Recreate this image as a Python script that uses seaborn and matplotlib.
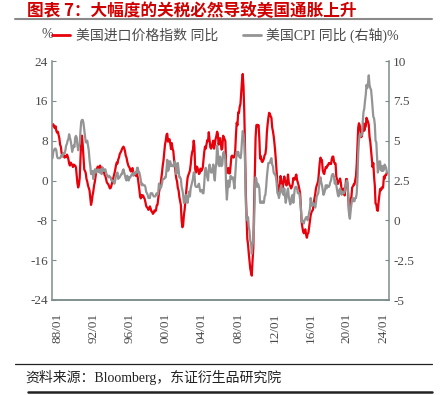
import numpy as np
import pandas as pd
import matplotlib
matplotlib.use("Agg")
import matplotlib.pyplot as plt
import matplotlib.dates as mdates
from matplotlib.lines import Line2D
import seaborn as sns

# ---------------- data (monthly, 1987-07 .. 2024-06) ----------------
start_month = "1987-07-01"

# US import price index, YoY %
import_yoy = [
    11.0, 11.3, 10.8, 10.5, 10.9, 10.0,
    9.6, 9.8, 9.2, 8.5, 7.2, 6.8, 5.5, 5.0, 5.4, 4.8, 4.6, 4.9,
    4.7, 5.2, 4.9, 4.3, 3.4, 3.0, 3.6, 3.3, 3.2, 2.7, 3.2, 3.0,
    3.0, 2.6, 1.1, -0.6, -1.4, -0.8, 0.5, 4.5, 8.2, 9.0, 7.1, 4.5,
    2.2, 1.9, 1.5, 0.3, -0.2, -1.0, -1.5, -2.0, -3.5, -4.9, -4.2, -3.0,
    -2.2, -1.0, -0.3, 0.8, 1.9, 2.4, 2.8, 2.2, 2.6, 3.0, 2.4, 2.1,
    2.6, 2.0, 1.8, 1.1, 0.9, 0.2, -0.4, -0.6, -0.8, -1.2, -1.6, -1.5,
    -1.0, -0.4, 0.2, 0.8, 1.4, 2.1, 3.0, 3.6, 3.4, 4.2, 4.6, 5.3,
    5.6, 5.9, 6.3, 6.6, 6.8, 6.5, 5.9, 5.0, 4.6, 3.8, 3.2, 2.8,
    2.6, 2.0, 1.8, 2.3, 2.5, 1.6, 1.2, 1.4, 1.0, 0.9, 1.3, 0.5,
    -0.7, -1.9, -3.2, -3.6, -2.9, -3.3, -3.0, -3.4, -3.7, -4.3, -5.1, -5.4,
    -5.5, -5.9, -5.7, -5.2, -5.6, -6.2, -6.3, -6.7, -6.5, -6.0, -6.2, -6.0,
    -5.0, -4.9, -3.8, -2.5, -1.6, -0.9, 0.2, 1.5, 3.0, 4.0, 5.6, 7.2,
    8.0, 9.2, 9.4, 7.8, 8.1, 8.3, 7.4, 6.3, 7.5, 6.4, 5.9, 4.2,
    3.0, 1.5, 0.4, -0.2, -1.5, -2.0, -3.3, -4.1, -4.9, -8.0, -9.4, -9.0,
    -7.0, -5.8, -4.2, -2.6, -0.8, 0.6, 1.1, 1.5, 2.0, 3.1, 4.8, 5.7,
    6.2, 8.0, 6.9, 2.3, 1.6, 2.8, 2.6, 2.0, 1.3, 1.5, 2.4, 1.9,
    2.2, 2.6, 4.2, 5.7, 6.8, 6.4, 7.3, 8.1, 7.9, 9.7, 8.2, 6.7,
    6.4, 6.8, 7.5, 8.0, 6.4, 7.2, 8.3, 8.9, 9.8, 9.4, 7.2, 7.9,
    8.5, 7.2, 6.2, 6.5, 9.0, 8.7, 8.3, 7.9, 2.8, 1.5, 2.0, 2.5,
    1.4, 1.5, 3.0, 4.8, 5.0, 4.7, 4.6, 4.8, 5.9, 9.1, 11.6, 11.1,
    13.7, 13.6, 14.8, 15.4, 17.8, 20.0, 21.4, 18.9, 13.8, 6.7, -2.3, -7.1,
    -11.7, -12.9, -14.6, -16.2, -17.7, -18.5, -19.1, -16.1, -13.6, -5.2, 1.2, 8.6,
    11.1, 11.2, 10.9, 11.1, 8.5, 4.4, 4.9, 3.9, 3.7, 4.0, 4.4, 5.1,
    5.3, 6.6, 9.6, 11.3, 12.6, 13.6, 13.4, 12.9, 12.6, 10.7, 9.9, 8.9,
    7.5, 5.8, 3.9, 1.5, -0.8, -1.3, -3.1, -1.7, 0.9, 0.3, -1.2, -1.4,
    -0.5, 0.8, -0.1, -0.2, -1.0, -0.2, 1.2, -0.4, -0.9, -1.1, -1.6, -1.3,
    -0.8, 0.5, 0.2, 0.2, 0.8, 1.2, 0.1, -0.4, -1.0, -1.7, -2.5, -5.2,
    -8.3, -9.4, -10.2, -10.6, -10.0, -9.8, -10.9, -11.5, -10.7, -10.5, -9.4, -8.2,
    -7.0, -6.4, -6.1, -5.9, -4.5, -3.6, -2.8, -1.6, -1.0, -0.6, 0.0, 1.8,
    3.6, 4.6, 4.2, 4.1, 2.1, 1.5, 1.3, 2.1, 2.7, 2.5, 3.0, 3.0,
    3.5, 3.4, 3.5, 3.3, 4.3, 4.8, 4.8, 3.7, 3.4, 3.4, 0.8, 0.2,
    -0.7, -0.2, -0.1, 0.4, -0.4, -1.8, -1.8, -2.0, -1.6, -3.0, -1.4, 0.3,
    0.3, -1.2, -4.0, -6.8, -6.0, -3.8, -3.3, -1.4, -1.2, -0.8, -0.8, 0.0,
    0.9, 3.3, 6.9, 10.6, 11.5, 11.1, 10.0, 8.7, 9.0, 10.5, 11.5, 10.0,
    10.6, 10.9, 12.6, 12.2, 11.8, 11.2, 8.8, 7.8, 6.0, 4.2, 2.7, 3.5,
    0.8, -1.1, -4.6, -4.8, -5.9, -6.1, -4.4, -3.0, -1.7, -2.0, -1.4, -1.6,
    -1.3, 0.8, 0.4, 1.1, 1.1, 1.6,
]

# US CPI, YoY % (right axis)
cpi_yoy = [
    3.9, 4.3, 4.4, 4.5, 4.5, 4.4,
    4.0, 3.9, 3.9, 3.9, 3.9, 4.0, 4.1, 4.0, 4.2, 4.2, 4.2, 4.4,
    4.7, 4.8, 5.0, 5.1, 5.4, 5.2, 5.0, 4.7, 4.3, 4.5, 4.7, 4.6,
    5.2, 5.3, 5.2, 4.7, 4.4, 4.7, 4.8, 5.6, 6.2, 6.3, 6.3, 6.1,
    5.7, 5.3, 4.9, 4.9, 5.0, 4.7, 4.4, 3.8, 3.4, 2.9, 3.0, 3.1,
    2.6, 2.8, 3.2, 3.2, 3.0, 3.1, 3.2, 3.1, 3.0, 3.2, 3.0, 2.9,
    3.3, 3.2, 3.1, 3.2, 3.2, 3.0, 2.8, 2.8, 2.7, 2.8, 2.7, 2.7,
    2.5, 2.5, 2.5, 2.4, 2.3, 2.5, 2.8, 2.9, 3.0, 2.6, 2.7, 2.7,
    2.8, 2.9, 2.9, 3.1, 3.2, 3.0, 2.8, 2.6, 2.5, 2.8, 2.6, 2.5,
    2.7, 2.7, 2.8, 2.9, 2.9, 2.8, 3.0, 2.9, 3.0, 3.0, 3.3, 3.3,
    3.0, 3.0, 2.8, 2.5, 2.2, 2.3, 2.2, 2.2, 2.2, 2.1, 1.8, 1.7,
    1.6, 1.4, 1.4, 1.4, 1.7, 1.7, 1.7, 1.6, 1.5, 1.5, 1.5, 1.6,
    1.7, 1.6, 1.7, 2.3, 2.1, 2.0, 2.1, 2.3, 2.6, 2.6, 2.6, 2.7,
    2.7, 3.2, 3.8, 3.1, 3.2, 3.7, 3.7, 3.4, 3.5, 3.4, 3.4, 3.4,
    3.7, 3.5, 2.9, 3.3, 3.6, 3.2, 2.7, 2.7, 2.6, 2.1, 1.9, 1.6,
    1.1, 1.1, 1.5, 1.6, 1.2, 1.1, 1.5, 1.8, 1.5, 2.0, 2.2, 2.4,
    2.6, 3.0, 3.0, 2.2, 2.1, 2.1, 2.1, 2.2, 2.3, 2.0, 1.8, 1.9,
    1.9, 1.7, 1.7, 2.3, 3.1, 3.3, 3.0, 2.7, 2.5, 3.2, 3.5, 3.3,
    3.0, 3.0, 3.1, 3.5, 2.8, 2.5, 3.2, 3.6, 4.7, 4.3, 3.5, 3.4,
    4.0, 3.6, 3.4, 3.5, 4.2, 4.3, 4.1, 3.8, 2.1, 1.3, 2.0, 2.5,
    2.1, 2.4, 2.8, 2.6, 2.7, 2.7, 2.4, 2.0, 2.8, 3.5, 4.3, 4.1,
    4.3, 4.0, 4.0, 3.9, 4.2, 5.0, 5.6, 5.4, 4.9, 3.7, 1.1, 0.1,
    0.0, 0.2, -0.4, -0.7, -1.3, -1.4, -2.1, -1.5, -1.3, -0.2, 1.8, 2.7,
    2.6, 2.1, 2.3, 2.2, 2.0, 1.1, 1.2, 1.1, 1.1, 1.2, 1.1, 1.5,
    1.6, 2.1, 2.7, 3.2, 3.6, 3.6, 3.6, 3.8, 3.9, 3.5, 3.4, 3.0,
    2.9, 2.9, 2.7, 2.3, 1.7, 1.7, 1.4, 1.7, 2.0, 2.2, 1.8, 1.7,
    1.6, 2.0, 1.5, 1.1, 1.4, 1.8, 2.0, 1.5, 1.2, 1.0, 1.2, 1.5,
    1.6, 1.1, 1.5, 2.0, 2.1, 2.1, 2.0, 1.7, 1.7, 1.7, 1.3, 0.8,
    -0.1, 0.0, -0.1, -0.2, 0.0, 0.1, 0.2, 0.2, 0.0, 0.2, 0.5, 0.7,
    1.4, 1.0, 0.9, 1.1, 1.0, 1.0, 0.8, 1.1, 1.5, 1.6, 1.7, 2.1,
    2.5, 2.7, 2.4, 2.2, 1.9, 1.6, 1.7, 1.9, 2.2, 2.0, 2.2, 2.1,
    2.1, 2.2, 2.4, 2.5, 2.8, 2.9, 2.9, 2.7, 2.3, 2.5, 2.2, 1.9,
    1.6, 1.5, 1.9, 2.0, 1.8, 1.6, 1.8, 1.7, 1.7, 1.8, 2.1, 2.3,
    2.5, 2.3, 1.5, 0.3, 0.1, 0.6, 1.0, 1.3, 1.4, 1.2, 1.2, 1.4,
    1.4, 1.7, 2.6, 4.2, 5.0, 5.4, 5.4, 5.3, 5.4, 6.2, 6.8, 7.0,
    7.5, 7.9, 8.5, 8.3, 8.6, 9.1, 8.5, 8.3, 8.2, 7.7, 7.1, 6.5,
    6.4, 6.0, 5.0, 4.9, 4.0, 3.0, 3.2, 3.7, 3.7, 3.2, 3.1, 3.4,
    3.1, 3.2, 3.5, 3.4, 3.3, 3.0,
]

left_ticks = [-24, -16, -8, 0, 8, 16, 24]
right_ticks = [-5, -2.5, 0, 2.5, 5, 7.5, 10]
right_tick_labels = ["-5", "-2.5", "0", "2.5", "5", "7.5", "10"]
x_tick_years = [1988, 1992, 1996, 2000, 2004, 2008, 2012, 2016, 2020, 2024]

title_text = "图表 7：大幅度的关税必然导致美国通胀上升"
label_import = "美国进口价格指数 同比"
label_cpi = "美国CPI 同比 (右轴)%"
source_text = "资料来源：Bloomberg，东证衍生品研究院"

# ---------------- style ----------------
sns.set_theme(style="white")
plt.rcParams["font.family"] = ["Liberation Serif", "Noto Sans CJK SC", "DejaVu Sans"]
plt.rcParams["axes.unicode_minus"] = False

RED = "#e8000b"
GRAY = "#949494"
SPINE = "#7d8c8c"
TXT = "#4a4a4a"

dates = pd.date_range(start_month, periods=len(import_yoy), freq="MS")
df = pd.DataFrame({"date": dates, "import": import_yoy, "cpi": cpi_yoy})

fig = plt.figure(figsize=(4.4, 3.95), dpi=100)
ax = fig.add_axes([52 / 440, 1 - 300 / 395, (389 - 52) / 440, (300 - 61) / 395])
ax2 = ax.twinx()

sns.lineplot(data=df, x="date", y="import", ax=ax, color=RED, linewidth=1.6)
sns.lineplot(data=df, x="date", y="cpi", ax=ax2, color=GRAY, linewidth=1.6)

ax.set_ylim(-24, 24)
ax2.set_ylim(-5, 10)
ax.set_yticks(left_ticks)
ax.set_yticklabels([str(v) for v in left_ticks])
ax2.set_yticks(right_ticks)
ax2.set_yticklabels(right_tick_labels)

ax.set_xlim(pd.Timestamp("1987-06-10"), pd.Timestamp("2024-08-25"))
ax.set_xticks([pd.Timestamp(f"{y}-01-01") for y in x_tick_years])
ax.xaxis.set_major_formatter(mdates.DateFormatter("%y/%m"))

for a in (ax, ax2):
    a.set_xlabel("")
    a.set_ylabel("")
    a.grid(False)
    a.spines["top"].set_visible(False)
    for s in ("left", "right", "bottom"):
        a.spines[s].set_color(SPINE)
        a.spines[s].set_linewidth(1.1)
    a.tick_params(axis="both", direction="in", length=3, width=0.8, color=SPINE,
                  labelcolor=TXT, labelsize=9.5, pad=3)

ax.spines["right"].set_visible(False)
ax2.spines["left"].set_visible(False)
ax.tick_params(axis="x", labelrotation=90, labelsize=9.5, pad=9)
ax.tick_params(axis="y", left=True, right=False)
ax2.tick_params(axis="y", right=True, left=False)
if ax.get_legend():
    ax.get_legend().remove()
if ax2.get_legend():
    ax2.get_legend().remove()

# ---------------- title, legend, footer ----------------
fig.text(27 / 440, 1 - 11 / 395, title_text, color="#d00000", fontsize=12,
         fontweight="bold", family=["Noto Sans CJK SC"], va="center", ha="left")
fig.add_artist(Line2D([15 / 440, 432 / 440], [1 - 19 / 395, 1 - 19 / 395],
                      color="#8a8a8a", linewidth=1.5))

fig.text(41 / 440, 1 - 35 / 395, "%", color=TXT, fontsize=10, va="center", ha="left")
handles = [Line2D([], [], color=RED, linewidth=2.0),
           Line2D([], [], color=GRAY, linewidth=2.0)]
fig.legend(handles, [label_import, label_cpi], loc="center left",
           bbox_to_anchor=(52 / 440, 1 - 35 / 395), ncol=2, frameon=False,
           fontsize=10, handlelength=1.3, handletextpad=0.4, columnspacing=1.8,
           borderpad=0, borderaxespad=0, labelcolor=TXT)

fig.add_artist(Line2D([15 / 440, 432 / 440], [1 - 364 / 395, 1 - 364 / 395],
                      color="#222222", linewidth=0.9))
fig.text(25 / 440, 1 - 377 / 395, source_text, color="#222222", fontsize=10,
         va="center", ha="left")
fig.add_artist(Line2D([28 / 440, 432 / 440], [1 - 392 / 395, 1 - 392 / 395],
                      color="#222222", linewidth=1.8))

fig.savefig("out.png", dpi=100)
